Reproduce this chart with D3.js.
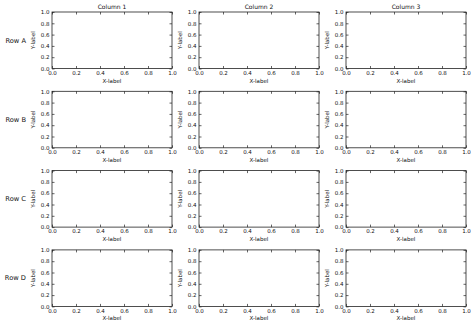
<!DOCTYPE html>
<html lang="en">
<head>
    <meta charset="UTF-8">
    <title>Row and column headers</title>
    <style>
        body { margin: 0; background: #fff; }
        svg text { font-family: "DejaVu Sans", sans-serif; fill: #111; }
    </style>
</head>
<body>
    <div id="d3-container"></div>

    <script src="https://cdn.jsdelivr.net/npm/d3@7"></script>

    <script>
        const columns = ["Column 1", "Column 2", "Column 3"];
        const rows = ["Row A", "Row B", "Row C", "Row D"];
        const tickValues = [0, 0.2, 0.4, 0.6, 0.8, 1.0];
        const xDomain = [0, 1];
        const yDomain = [0, 1];
        const xLabel = "X-label";
        const yLabel = "Y-label";

        const W = 474, H = 327;
        const axW = 120, axH = 56.5;
        const left0 = 52, top0 = 12;
        const colStep = 147, rowStep = 79.3;
        const tickLen = 2.5;
        const fmt = d3.format(".1f");

        const svg = d3.select("#d3-container")
            .append("svg")
            .attr("width", W)
            .attr("height", H);

        const x = d3.scaleLinear().domain(xDomain).range([0, axW]);
        const y = d3.scaleLinear().domain(yDomain).range([axH, 0]);

        rows.forEach(function(row, j) {
            columns.forEach(function(col, i) {
                const g = svg.append("g")
                    .attr("transform", `translate(${left0 + i * colStep},${top0 + j * rowStep})`);

                // bottom axis with labels
                const xb = g.append("g")
                    .attr("transform", `translate(0,${axH})`)
                    .call(d3.axisBottom(x).tickValues(tickValues).tickSize(-tickLen).tickPadding(2.5).tickFormat(fmt));
                // top axis, ticks only
                const xt = g.append("g")
                    .call(d3.axisTop(x).tickValues(tickValues).tickSize(-tickLen).tickFormat(""));
                // left axis with labels
                const yl = g.append("g")
                    .call(d3.axisLeft(y).tickValues(tickValues).tickSize(-tickLen).tickPadding(2.5).tickFormat(fmt));
                // right axis, ticks only
                const yr = g.append("g")
                    .attr("transform", `translate(${axW},0)`)
                    .call(d3.axisRight(y).tickValues(tickValues).tickSize(-tickLen).tickFormat(""));

                [xb, xt, yl, yr].forEach(function(a) {
                    a.select(".domain").remove();
                    a.selectAll(".tick line").attr("stroke", "#222").attr("stroke-width", 0.7);
                    a.selectAll(".tick text")
                        .attr("font-family", "DejaVu Sans")
                        .style("font-size", "5.5px")
                        .attr("fill", "#111");
                });

                g.append("rect")
                    .attr("width", axW)
                    .attr("height", axH)
                    .attr("fill", "none")
                    .attr("stroke", "#222")
                    .attr("stroke-width", 0.8);

                g.append("text")
                    .attr("x", axW / 2)
                    .attr("y", axH + 14)
                    .attr("fill", "#111")
                    .style("text-anchor", "middle")
                    .style("font-size", "5.5px")
                    .text(xLabel);

                g.append("text")
                    .attr("transform", `translate(-17,${axH / 2}) rotate(-90)`)
                    .attr("fill", "#111")
                    .style("text-anchor", "middle")
                    .style("font-size", "5.5px")
                    .text(yLabel);

                if (j === 0) {
                    g.append("text")
                        .attr("x", axW / 2)
                        .attr("y", -3.5)
                        .attr("fill", "#111")
                        .style("text-anchor", "middle")
                        .style("font-size", "6px")
                        .text(col);
                }
                if (i === 0) {
                    g.append("text")
                        .attr("x", -26)
                        .attr("y", axH / 2)
                        .attr("dy", "0.35em")
                        .attr("fill", "#111")
                        .style("text-anchor", "end")
                        .style("font-size", "6.7px")
                        .text(row);
                }
            });
        });
    </script>
</body>
</html>
